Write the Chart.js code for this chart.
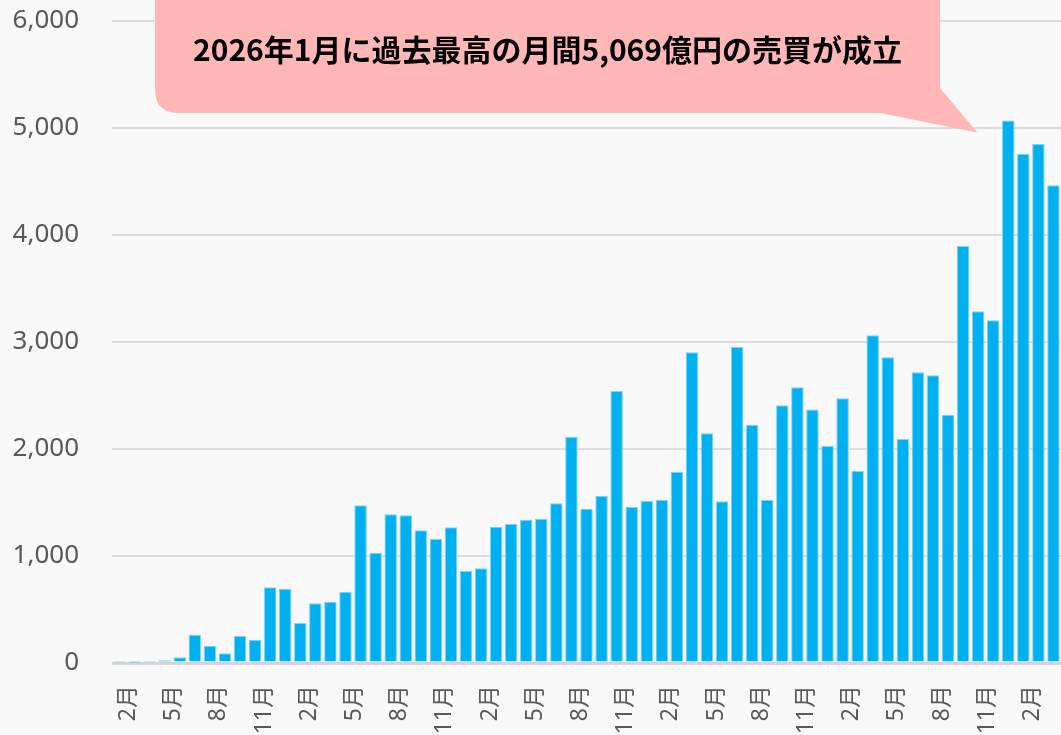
<!DOCTYPE html>
<html lang="ja">
<head>
<meta charset="utf-8">
<title>月間売買代金</title>
<script src="https://cdn.jsdelivr.net/npm/chart.js@4.4.1/dist/chart.umd.min.js"></script>
<style>
  html, body { margin: 0; padding: 0; background: #f9f9f9; }
  #wrap { width: 1061px; height: 735px; overflow: hidden; }
</style>
</head>
<body>
<div id="wrap"><canvas id="chart" width="1061" height="735"></canvas></div>
<script>
// months: 2021/02 .. 2026/04
const months = [
  '2021/02', '2021/03', '2021/04', '2021/05', '2021/06', '2021/07', '2021/08', '2021/09', '2021/10', '2021/11', '2021/12',
  '2022/01', '2022/02', '2022/03', '2022/04', '2022/05', '2022/06', '2022/07', '2022/08', '2022/09', '2022/10', '2022/11', '2022/12',
  '2023/01', '2023/02', '2023/03', '2023/04', '2023/05', '2023/06', '2023/07', '2023/08', '2023/09', '2023/10', '2023/11', '2023/12',
  '2024/01', '2024/02', '2024/03', '2024/04', '2024/05', '2024/06', '2024/07', '2024/08', '2024/09', '2024/10', '2024/11', '2024/12',
  '2025/01', '2025/02', '2025/03', '2025/04', '2025/05', '2025/06', '2025/07', '2025/08', '2025/09', '2025/10', '2025/11', '2025/12',
  '2026/01', '2026/02', '2026/03', '2026/04'
];

// 月間売買代金（億円）
const tradeValue = [
  8, 2, 8, 25, 53, 264, 162, 90, 252, 218, 707,
  695, 374, 558, 573, 667, 1474, 1031, 1390, 1380, 1240, 1159, 1268,
  860, 885, 1274, 1299, 1339, 1349, 1492, 2115, 1442, 1564, 2542, 1458,
  1514, 1526, 1788, 2904, 2147, 1511, 2953, 2224, 1523, 2408, 2577, 2370,
  2028, 2474, 1794, 3063, 2857, 2093, 2717, 2690, 2320, 3897, 3287, 3203,
  5069, 4757, 4850, 4464
];

const shownMonths = ['02', '05', '08', '11'];
const calloutText = '2026年1月に過去最高の月間5,069億円の売買が成立';
const calloutIndex = 59;

const tickFont = "'Noto Sans', 'Noto Sans CJK JP', sans-serif";

// speech bubble drawn on top of the plot
const calloutPlugin = {
  id: 'callout',
  afterDraw(chart) {
    const { ctx, scales } = chart;
    const left = 155, right = 940, top = -30, bottom = 113, r = 24;
    const tipX = scales.x.getPixelForValue(calloutIndex) - 31;
    const tipY = scales.y.getPixelForValue(tradeValue[calloutIndex]) + 12;
    ctx.save();
    ctx.fillStyle = '#ffb7b7';
    ctx.beginPath();
    ctx.moveTo(left + r, top);
    ctx.lineTo(right - r, top);
    ctx.quadraticCurveTo(right, top, right, top + r);
    ctx.lineTo(right, bottom - 25);
    ctx.lineTo(tipX, tipY);
    ctx.lineTo(right - 60, bottom);
    ctx.lineTo(left + r, bottom);
    ctx.quadraticCurveTo(left, bottom, left, bottom - r);
    ctx.lineTo(left, top + r);
    ctx.quadraticCurveTo(left, top, left + r, top);
    ctx.closePath();
    ctx.fill();

    ctx.fillStyle = '#000';
    ctx.font = "bold 30px 'Noto Sans CJK JP', sans-serif";
    ctx.textAlign = 'center';
    ctx.textBaseline = 'middle';
    ctx.fillText(calloutText, (left + right) / 2, 50);
    ctx.restore();
  }
};

const ctx = document.getElementById('chart').getContext('2d');
new Chart(ctx, {
  type: 'bar',
  data: {
    labels: months,
    datasets: [{
      label: '売買代金',
      data: tradeValue,
      backgroundColor: '#00b0f0',
      borderColor: '#7dd4f5',
      borderWidth: 1,
      categoryPercentage: 1,
      barPercentage: 0.83,
    }]
  },
  options: {
    responsive: false,
    animation: false,
    layout: { padding: { top: 21, right: 0, bottom: 0, left: 0 } },
    plugins: {
      legend: { display: false },
      tooltip: { enabled: false },
    },
    scales: {
      x: {
        offset: true,
        grid: { display: false, drawTicks: false },
        border: { display: false },
        ticks: {
          autoSkip: false,
          minRotation: 90,
          maxRotation: 90,
          padding: 22,
          labelOffset: 9,
          color: '#595959',
          font: { family: tickFont, size: 23 },
          callback: function (val, i) {
            const m = months[i].slice(5);
            return shownMonths.includes(m) ? parseInt(m, 10) + '月' : '';
          }
        },
        afterFit: (scale) => {
          scale.height = 72;
          scale.paddingLeft = 0;
          scale.paddingRight = 0;
        }
      },
      y: {
        min: 0,
        max: 6000,
        ticks: {
          stepSize: 1000,
          padding: 33,
          color: '#595959',
          font: { family: tickFont, size: 26 },
          callback: (v) => v.toLocaleString('en-US')
        },
        grid: {
          drawTicks: false,
          color: (c) => c.tick && c.tick.value === 0 ? '#d4d4d4' : '#dedede',
          lineWidth: (c) => c.tick && c.tick.value === 0 ? 3 : 2,
        },
        border: { display: false },
        afterFit: (scale) => {
          scale.width = 112;
          scale.paddingTop = 0;
          scale.paddingBottom = 0;
        }
      }
    }
  },
  plugins: [calloutPlugin]
});
</script>
</body>
</html>
